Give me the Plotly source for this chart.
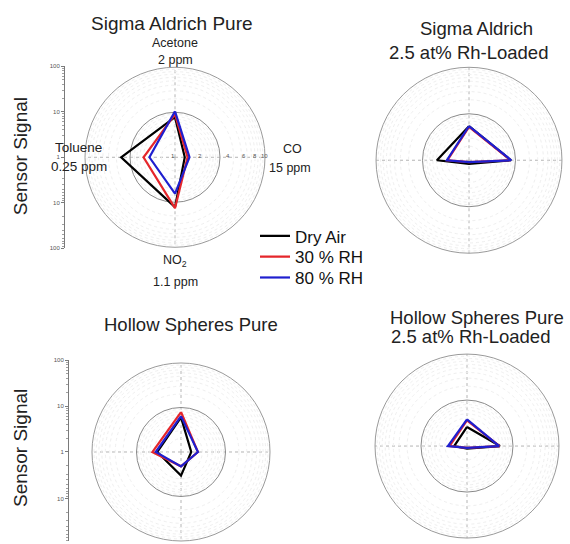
import numpy as np
import plotly.graph_objects as go

W, H = 570, 544

# ---------------- data ----------------
gases = ["Acetone", "CO", "NO2", "Toluene"]
series_names = ["Dry Air", "30 % RH", "80 % RH"]
series_colors = ["#000000", "#e5262b", "#1f1fcf"]

# sensor signal (log radius, 1 at centre, 100 at rim), order: Acetone, CO, NO2, Toluene
sa_pure_dry = [7.8, 1.65, 12.8, 15.7]
sa_pure_30 = [9.0, 1.9, 13.5, 5.0]
sa_pure_80 = [10.5, 2.1, 6.4, 3.7]

sa_rh_dry = [5.4, 8.0, 1.2, 4.9]
sa_rh_30 = [5.2, 7.8, 1.1, 2.9]
sa_rh_80 = [5.4, 8.1, 1.1, 3.0]

hs_pure_dry = [6.0, 1.7, 3.4, 3.4]
hs_pure_30 = [7.9, 2.4, 2.1, 4.4]
hs_pure_80 = [6.4, 2.4, 2.1, 3.7]

hs_rh_dry = [2.6, 5.2, 1.14, 1.9]
hs_rh_30 = [3.6, 5.1, 1.1, 2.4]
hs_rh_80 = [3.8, 5.0, 1.1, 2.6]

panel_titles = [
    ["Sigma Aldrich Pure"],
    ["Sigma Aldrich", "2.5 at% Rh-Loaded"],
    ["Hollow Spheres Pure"],
    ["Hollow Spheres Pure", "2.5 at% Rh-Loaded"],
]
gas_labels = {"Acetone": ["Acetone", "2 ppm"], "CO": ["CO", "15 ppm"],
              "NO2": ["NO<sub>2</sub>", "1.1 ppm"], "Toluene": ["Toluene", "0.25 ppm"]}
co_ticks = [1, 2, 4, 6, 8, 10]
signal_ticks_up = [1, 10, 100]
signal_ticks_down = [10, 100]
signal_minor = [2, 3, 4, 5, 6, 7, 8, 9, 20, 30, 40, 50, 60, 70, 80, 90]

# ---------------- layout geometry (pixels, top-down) ----------------
panels = [
    dict(cx=175, cy=156, R=91, vals=[sa_pure_dry, sa_pure_30, sa_pure_80]),
    dict(cx=469, cy=159, R=94, vals=[sa_rh_dry, sa_rh_30, sa_rh_80]),
    dict(cx=181, cy=454, R=90, vals=[hs_pure_dry, hs_pure_30, hs_pure_80]),
    dict(cx=467, cy=448, R=93, vals=[hs_rh_dry, hs_rh_30, hs_rh_80]),
]
legend_rows_y = [236, 257, 278]


def px(x):
    return x / W


def py(y):
    return (H - y) / H


fig = go.Figure()
layout = {}
FONT = "Liberation Sans, Arial, sans-serif"
legend_ids = ["legend", "legend2", "legend3"]

for i, p in enumerate(panels):
    bg = "polar" if i == 0 else f"polar{2 * i + 1}"
    fg = f"polar{2 * i + 2}"
    dom = dict(x=[px(p["cx"] - p["R"]), px(p["cx"] + p["R"])],
               y=[py(p["cy"] + p["R"]), py(p["cy"] - p["R"])])
    ang_common = dict(type="category", categoryorder="array", categoryarray=gases,
                      rotation=90, direction="clockwise", showticklabels=False, ticks="")
    layout[bg] = dict(
        domain=dom, bgcolor="white",
        radialaxis=dict(type="log", range=[0, 2], tickvals=signal_minor, showticklabels=False,
                        ticks="", showline=False, gridcolor="#efefef", griddash="dot", gridwidth=1),
        angularaxis=dict(**ang_common, showgrid=True, gridcolor="#b4b4b4", griddash="dot",
                         gridwidth=1, showline=True, linecolor="#9a9a9a", linewidth=1),
    )
    layout[fg] = dict(
        domain=dom, bgcolor="rgba(0,0,0,0)",
        radialaxis=dict(type="log", range=[0, 2], tickvals=[10], showticklabels=False,
                        ticks="", showline=False, gridcolor="#8a8a8a", gridwidth=1),
        angularaxis=dict(**ang_common, showgrid=False, showline=False),
    )
    fig.add_trace(go.Scatterpolar(r=[], theta=[], subplot=bg, showlegend=False, hoverinfo="skip"))
    for s, vals in enumerate(p["vals"]):
        fig.add_trace(go.Scatterpolar(
            r=vals + vals[:1], theta=gases + gases[:1], mode="lines",
            line=dict(color=series_colors[s], width=2.2), name=series_names[s],
            showlegend=(i == 0), legend=legend_ids[s], subplot=fg))

# ---------------- left "Sensor Signal" axes ----------------
axis_style = dict(type="log", showline=True, linecolor="#7a7a7a", linewidth=1, ticks="outside",
                  ticklen=3, tickcolor="#7a7a7a", tickfont=dict(size=6, color="#555", family=FONT),
                  showgrid=False, zeroline=False, fixedrange=True,
                  minor=dict(ticks="outside", ticklen=2, tickcolor="#a0a0a0", tickmode="array",
                             tickvals=signal_minor, showgrid=False))
left_axes = [
    dict(xline=65, c=156, top=64, bot=248, per=46),
    dict(xline=69, c=454, top=361, bot=544, per=47),
]
ya = 1
for k, a in enumerate(left_axes):
    xk = "xaxis" if k == 0 else f"xaxis{k + 1}"
    xid = "x" if k == 0 else f"x{k + 1}"
    up_id = "y" if ya == 1 else f"y{ya}"
    lo_id = f"y{ya + 1}"
    layout[xk] = dict(domain=[px(a["xline"]), px(a["xline"] + 20)], visible=False,
                      anchor=up_id, range=[0, 1], fixedrange=True)
    up = "yaxis" if ya == 1 else f"yaxis{ya}"
    layout[up] = dict(axis_style, domain=[py(a["c"]), py(a["top"])], range=[0, 2],
                      tickvals=signal_ticks_up, ticktext=[str(v) for v in signal_ticks_up],
                      anchor=xid)
    lo = f"yaxis{ya + 1}"
    lo_range = (a["bot"] - a["c"]) / a["per"]
    layout[lo] = dict(axis_style, domain=[py(a["bot"]), py(a["c"])], range=[lo_range, 0],
                      tickvals=signal_ticks_down, ticktext=[str(v) for v in signal_ticks_down],
                      anchor=xid)
    for yid in (up_id, lo_id):
        fig.add_trace(go.Scatter(x=[None], y=[None], xaxis=xid, yaxis=yid, mode="lines",
                                 showlegend=False, hoverinfo="skip"))
    ya += 2

annotations = []


def ann(text, x, y, size, color="#222", xanchor="center", textangle=0):
    annotations.append(dict(text=text, x=px(x), y=py(y), xref="paper", yref="paper",
                            showarrow=False, xanchor=xanchor, yanchor="middle",
                            textangle=textangle, font=dict(size=size, color=color, family=FONT)))


# titles
ann(panel_titles[0][0], 172, 21, 19)
ann(panel_titles[1][0], 476, 26, 18.5)
ann(panel_titles[1][1], 468, 50, 18.5)
ann(panel_titles[2][0], 191, 325, 18.5)
ann(panel_titles[3][0], 477, 318, 18.5)
ann(panel_titles[3][1], 470, 337, 18.5)

# Sensor Signal
ann("Sensor Signal", 20, 155, 19, textangle=-90)
ann("Sensor Signal", 20, 450, 19, textangle=-90)

# gas labels on first panel
ann(gas_labels["Acetone"][0], 175, 40, 12.5)
ann(gas_labels["Acetone"][1], 175, 58, 12.5)
ann(gas_labels["CO"][0], 292, 148, 12.5)
ann(gas_labels["CO"][1], 290, 167, 12.5)
ann(gas_labels["Toluene"][0], 79, 146, 13.5)
ann(gas_labels["Toluene"][1], 79, 165, 13.5)
ann(gas_labels["NO2"][0], 175, 261, 12.5)
ann(gas_labels["NO2"][1], 175, 282, 12.5)

# CO scale ticks (1-10 log across the radius) on first panel
p0 = panels[0]
for v in co_ticks:
    ann(str(v), p0["cx"] - 2 + p0["R"] * np.log10(v), p0["cy"] - 1, 6, color="#555")

for s, lid in enumerate(legend_ids):
    layout[lid] = dict(x=px(255), y=py(legend_rows_y[s]), xanchor="left", yanchor="middle",
                       bgcolor="rgba(0,0,0,0)", font=dict(size=17, color="#111", family=FONT),
                       itemwidth=30)

layout.update(
    width=W, height=H, margin=dict(l=0, r=0, t=0, b=0),
    paper_bgcolor="white", plot_bgcolor="rgba(0,0,0,0)",
    showlegend=True,
    annotations=annotations,
)
fig.update_layout(**layout)
fig.write_html("out.html")
